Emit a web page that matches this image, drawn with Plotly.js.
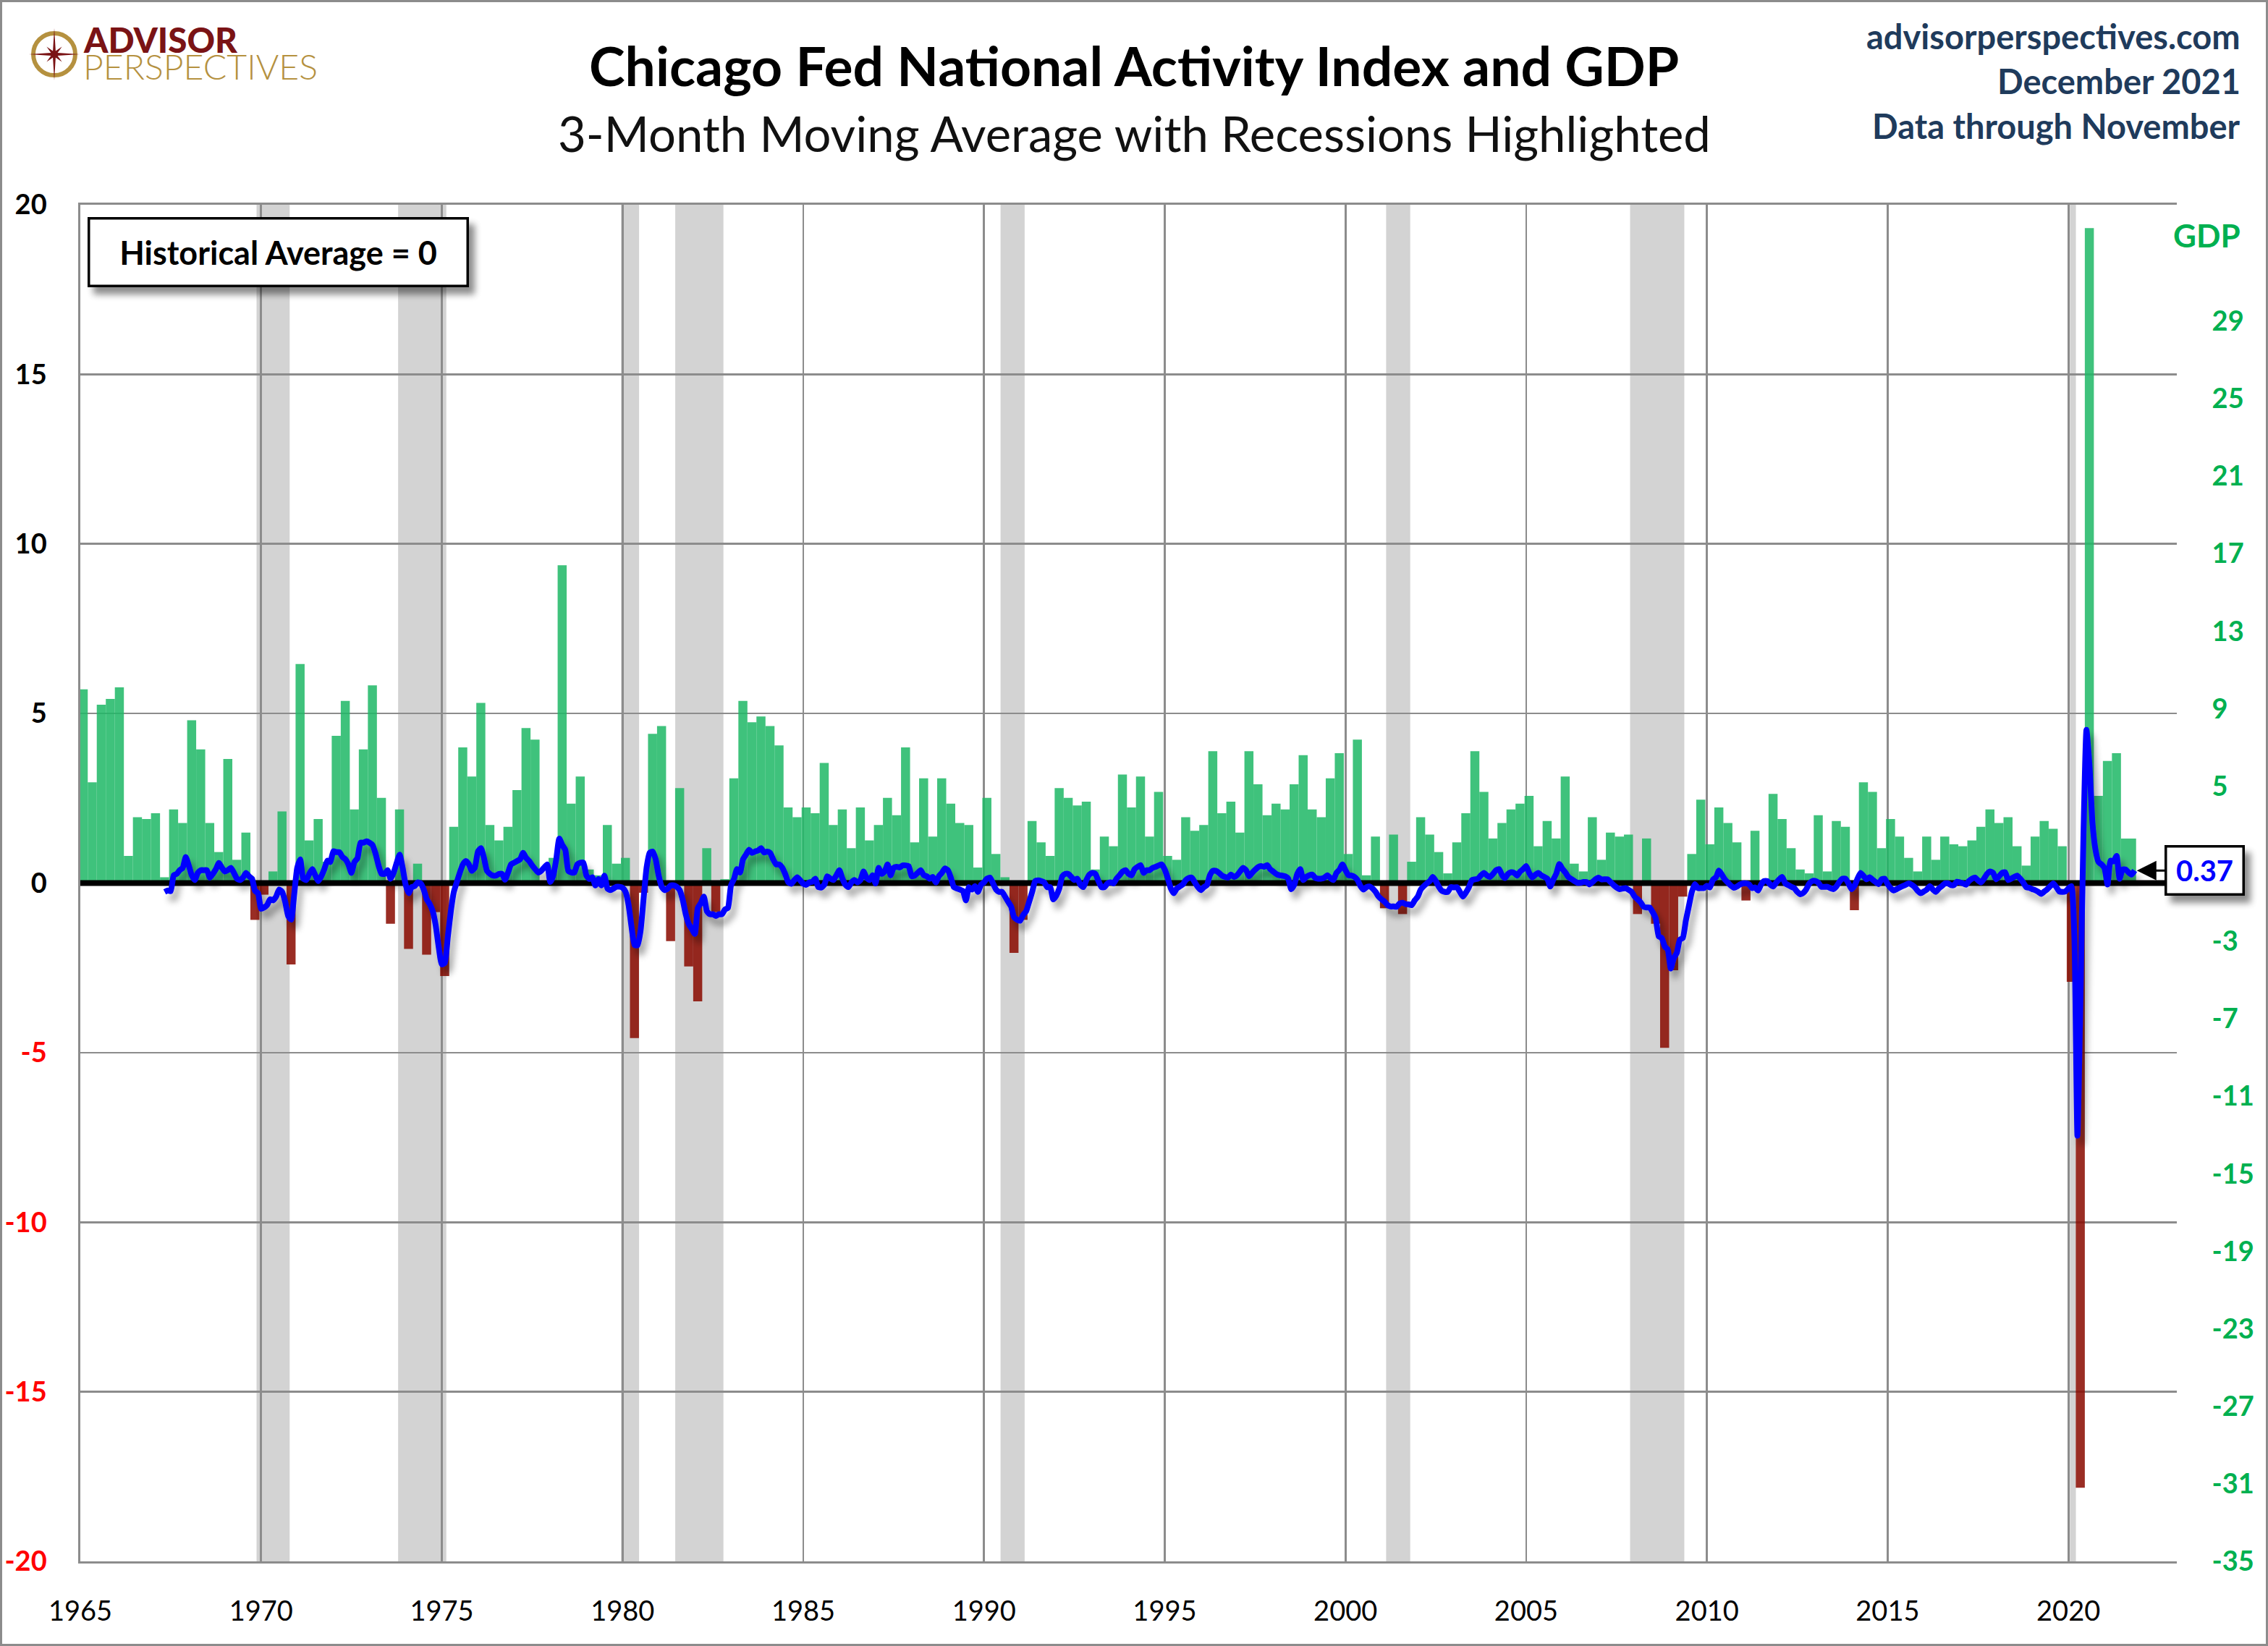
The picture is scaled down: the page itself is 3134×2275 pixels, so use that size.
<!DOCTYPE html>
<html><head><meta charset="utf-8">
<script src="https://cdn.plot.ly/plotly-3.0.1.min.js"></script>
<style>
html,body{margin:0;padding:0;background:#fff;}
#wrap{position:relative;width:3134px;height:2275px;overflow:hidden;background:#fff;}
#chart{position:absolute;left:0;top:0;width:3134px;height:2275px;}
#frame{position:absolute;left:0;top:0;width:3134px;height:2275px;box-sizing:border-box;border:3px solid #8c8c8c;pointer-events:none;}
#logo{position:absolute;left:0;top:0;pointer-events:none;}
</style></head>
<body>
<div id="wrap">
<div id="chart"></div>
<svg id="logo" width="470" height="130" xmlns="http://www.w3.org/2000/svg">
  <circle cx="75" cy="75" r="29" fill="none" stroke="#B5913F" stroke-width="6"/>
  <polygon id="star" fill="#7A1315"/>
  <text x="116" y="73" font-family="Lato" font-weight="900" font-size="47" fill="#7A1315" textLength="212" lengthAdjust="spacingAndGlyphs">ADVISOR</text>
  <text x="115" y="110" font-family="Lato" font-weight="300" font-size="47" fill="#B5913F" textLength="324" lengthAdjust="spacingAndGlyphs">PERSPECTIVES</text>
</svg>
<div id="frame"></div>
</div>
<script>
// ---------------- DATA ----------------
const gdpStartYear = 1965;           // first quarter = 1965 Q1
const gdp = [
 10.0, 5.2, 9.2, 9.5,   10.1, 1.4, 3.4, 3.3,   3.6, 0.3, 3.8, 3.1,   8.4, 6.9, 3.1, 1.6,   6.4, 1.2, 2.6, -1.9,
 -0.6, 0.6, 3.7, -4.2,  11.3, 2.2, 3.3, 1.1,   7.6, 9.4, 3.8, 6.9,   10.2, 4.4, -2.1, 3.8,  -3.4, 1.0, -3.7, -1.5,
 -4.8, 2.9, 7.0, 5.5,   9.3, 3.0, 2.2, 2.9,    4.8, 8.0, 7.4, 0.0,   1.3, 16.4, 4.1, 5.5,  0.7, 0.4, 3.0, 1.0,
 1.3, -8.0, -0.5, 7.7,  8.1, -3.0, 4.9, -4.3,  -6.1, 1.8, -1.5, 0.2, 5.4, 9.4, 8.3, 8.6,   8.1, 7.1, 3.9, 3.4,
 3.9, 3.6, 6.2, 3.0,    3.8, 1.8, 3.9, 2.2,    3.0, 4.4, 3.5, 7.0,   2.1, 5.4, 2.4, 5.4,   4.1, 3.1, 3.0, 0.8,
 4.4, 1.5, 0.3, -3.6,   -1.9, 3.2, 2.1, 1.4,   4.9, 4.4, 4.0, 4.2,   0.7, 2.4, 1.9, 5.6,   3.9, 5.5, 2.4, 4.7,
 1.4, 1.2, 3.4, 2.7,    3.0, 6.8, 3.6, 4.2,    2.6, 6.8, 5.1, 3.5,   4.1, 3.8, 5.1, 6.6,   3.8, 3.4, 5.4, 6.7,
 1.5, 7.4, 0.4, 2.4,    -1.3, 2.5, -1.6, 1.1,  3.4, 2.5, 1.6, 0.5,   2.1, 3.6, 6.8, 4.7,   2.3, 3.1, 3.8, 4.1,
 4.5, 1.9, 3.2, 2.3,    5.5, 1.0, 0.6, 3.4,    1.2, 2.6, 2.4, 2.5,   -1.6, 2.3, -2.1, -8.5, -4.5, -0.7, 1.5, 4.3,
 2.0, 3.9, 3.1, 2.1,    -0.9, 2.7, -0.1, 4.6,  3.3, 1.8, 0.7, 0.5,   3.5, 0.6, 3.2, 2.9,   -1.4, 5.2, 4.7, 1.8,
 3.3, 2.4, 1.3, 0.6,    2.4, 1.2, 2.4, 2.0,    1.9, 2.2, 2.9, 3.8,   3.1, 3.4, 1.9, 0.9,   2.4, 3.2, 2.8, 1.9,
 -5.1, -31.2, 33.8, 4.5, 6.3, 6.7, 2.3
];

const cfnaiStartYear = 1967, cfnaiStartMonth = 5;   // May 1967
const cfnai = [
 -0.26, -0.22, -0.24, 0.23, 0.27, 0.38, 0.45, 0.77,
 0.52, 0.23, 0.09, 0.30, 0.38, 0.38, 0.38, 0.16, 0.27, 0.41, 0.59, 0.45,
 0.34, 0.38, 0.45, 0.30, 0.13, 0.09, 0.16, 0.30, 0.20, 0.13, -0.23, -0.30,
 -0.76, -0.72, -0.65, -0.48, -0.51, -0.40, -0.19, -0.26, -0.55, -0.97, -1.08, -0.33,
 0.45, 0.70, 0.13, 0.09, 0.27, 0.41, 0.23, 0.06, 0.20, 0.41, 0.66, 0.62,
 0.94, 0.91, 0.91, 0.77, 0.70, 0.55, 0.30, 0.62, 0.73, 1.19, 1.19, 1.23,
 1.19, 1.12, 0.87, 0.52, 0.27, 0.27, 0.38, 0.13, 0.30, 0.59, 0.84, 0.45,
 -0.05, -0.30, -0.12, -0.09, 0.02, -0.01, -0.19, -0.48, -0.62, -0.83, -1.26, -1.90,
 -2.40, -2.35, -1.59, -0.83, -0.26, 0.03, 0.31, 0.55, 0.65, 0.55, 0.36, 0.46,
 0.93, 1.03, 0.74, 0.36, 0.27, 0.22, 0.22, 0.27, 0.27, 0.10, 0.31, 0.55,
 0.60, 0.65, 0.70, 0.89, 0.74, 0.65, 0.52, 0.41, 0.31, 0.36, 0.46, 0.55,
 0.03, 0.22, 0.70, 1.31, 1.12, 0.98, 0.36, 0.31, 0.31, 0.55, 0.60, 0.60,
 0.22, 0.12, 0.17, -0.07, 0.12, -0.07, 0.22, -0.16, -0.21, -0.16, -0.11, -0.11,
 -0.14, -0.26, -0.64, -1.30, -1.83, -1.83, -1.40, -0.45, 0.46, 0.89, 0.93, 0.70,
 0.22, -0.11, -0.21, -0.16, -0.07, -0.07, -0.11, -0.21, -0.50, -0.92, -1.21, -1.35,
 -1.50, -0.73, -0.59, -0.40, -0.83, -0.92, -0.92, -0.97, -0.92, -0.92, -0.78, -0.73,
 -0.07, 0.12, 0.41, 0.31, 0.70, 0.84, 0.98, 0.89, 0.93, 0.96, 1.03, 0.90,
 0.93, 0.89, 0.70, 0.55, 0.55, 0.46, 0.27, 0.03, -0.02, 0.08, 0.17, 0.08,
 -0.02, -0.05, 0.02, 0.04, 0.13, -0.12, -0.13, -0.05, 0.20, 0.13, 0.09, 0.23,
 0.38, 0.13, -0.05, -0.12, 0.02, 0.09, 0.02, 0.09, 0.34, 0.16, 0.09, 0.23,
 -0.01, 0.45, 0.27, 0.34, 0.55, 0.23, 0.45, 0.48, 0.46, 0.52, 0.52, 0.50,
 0.20, 0.22, 0.30, 0.38, 0.23, 0.20, 0.13, 0.18, 0.02, 0.20, 0.30, 0.43,
 0.38, 0.16, -0.12, -0.16, -0.19, -0.23, -0.51, -0.12, -0.19, -0.09, -0.26, -0.05,
 0.02, 0.13, 0.16, -0.01, -0.19, -0.26, -0.26, -0.40, -0.55, -0.69, -1.01, -1.08,
 -1.11, -0.94, -0.83, -0.55, -0.26, 0.06, 0.08, 0.06, 0.02, -0.12, -0.12, -0.48,
 -0.37, -0.16, 0.20, 0.27, 0.27, 0.18, 0.09, 0.13, -0.05, -0.12, 0.09, 0.25,
 0.30, 0.27, 0.06, -0.12, -0.12, -0.01, 0.02, -0.01, 0.13, 0.23, 0.34, 0.38,
 0.27, 0.23, 0.41, 0.48, 0.53, 0.30, 0.38, 0.38, 0.45, 0.48, 0.52, 0.55,
 0.40, 0.15, -0.15, -0.30, -0.16, -0.10, -0.04, 0.09, 0.15, 0.16, 0.02, -0.12,
 -0.21, -0.12, -0.06, 0.23, 0.36, 0.36, 0.30, 0.22, 0.18, 0.16, 0.25, 0.18,
 0.23, 0.34, 0.45, 0.38, 0.20, 0.30, 0.39, 0.47, 0.50, 0.48, 0.53, 0.41,
 0.34, 0.27, 0.23, 0.22, 0.20, 0.13, -0.18, -0.05, 0.27, 0.41, 0.09, 0.18,
 0.23, 0.25, 0.15, 0.13, 0.13, 0.16, 0.23, 0.15, 0.09, 0.30, 0.39, 0.55,
 0.38, 0.23, 0.22, 0.18, 0.09, -0.09, -0.19, -0.12, -0.10, -0.16, -0.26, -0.40,
 -0.48, -0.55, -0.65, -0.69, -0.69, -0.70, -0.60, -0.58, -0.62, -0.63, -0.65, -0.51,
 -0.40, -0.19, -0.09, -0.01, 0.06, 0.18, 0.06, -0.11, -0.23, -0.26, -0.26, -0.12,
 -0.13, -0.12, -0.26, -0.40, -0.28, -0.12, 0.09, 0.11, 0.13, 0.23, 0.30, 0.22,
 0.18, 0.27, 0.38, 0.41, 0.23, 0.15, 0.27, 0.32, 0.30, 0.22, 0.34, 0.41,
 0.50, 0.30, 0.17, 0.24, 0.30, 0.23, 0.18, 0.13, -0.10, 0.10, 0.28, 0.56,
 0.42, 0.31, 0.18, 0.12, 0.06, 0.01, 0.01, 0.03, 0.03, -0.04, 0.03, 0.11,
 0.16, 0.11, 0.11, 0.11, 0.03, -0.06, -0.13, -0.18, -0.16, -0.15, -0.20, -0.26,
 -0.40, -0.48, -0.57, -0.70, -0.72, -0.72, -0.86, -1.04, -1.57, -1.62, -1.87, -1.96,
 -2.52, -2.21, -2.06, -1.67, -1.62, -1.11, -0.68, -0.26, -0.03, -0.15, -0.15, -0.15,
 -0.08, -0.13, 0.10, 0.17, 0.37, 0.24, 0.10, 0.01, -0.08, -0.14, -0.10, -0.04,
 -0.01, -0.01, -0.04, -0.15, -0.13, -0.22, -0.04, 0.06, 0.06, -0.04, -0.10, 0.01,
 0.11, 0.18, -0.01, -0.06, -0.11, -0.15, -0.26, -0.33, -0.29, -0.18, -0.01, 0.06,
 0.06, 0.01, -0.11, -0.11, -0.11, -0.15, -0.18, -0.10, 0.04, 0.13, 0.13, -0.01,
 -0.18, -0.08, 0.13, 0.30, 0.21, 0.11, 0.17, 0.10, 0.03, -0.03, 0.11, 0.13,
 -0.03, -0.15, -0.22, -0.18, -0.13, -0.09, -0.05, -0.01, -0.05, -0.12, -0.23, -0.30,
 -0.25, -0.19, -0.09, -0.19, -0.26, -0.16, -0.09, -0.01, -0.01, -0.06, -0.06, 0.04,
 0.02, -0.01, -0.05, 0.06, 0.13, 0.16, 0.08, 0.02, 0.13, 0.27, 0.34, 0.30,
 0.11, 0.20, 0.30, 0.32, 0.09, 0.13, 0.18, 0.22, 0.13, 0.02, -0.12, -0.14,
 -0.18, -0.21, -0.26, -0.32, -0.25, -0.18, -0.09, -0.01, -0.12, -0.25, -0.26, -0.25,
 -0.16, -0.09, -1.60, -7.45, -3.40, 1.40, 4.52, 3.46, 1.77, 0.98, 0.62, 0.55,
 0.44, -0.04, 0.66, 0.64, 0.80, 0.13, 0.40, 0.40, 0.31, 0.25, 0.37
];

const recessionStart = ['1969-12','1973-11','1980-01','1981-07','1990-07','2001-03','2007-12','2020-02'];
const recessionEnd   = ['1970-11','1975-03','1980-07','1982-11','1991-03','2001-11','2009-06','2020-04'];

const xRange     = [1965, 2023];
const xTickYears = [1965,1970,1975,1980,1985,1990,1995,2000,2005,2010,2015,2020];
const leftRange  = [-20, 20];
const leftTicks  = [-20,-15,-10,-5,0,5,10,15,20];
const rightRange = [-35, 35];
const rightTicks = [-35,-31,-27,-23,-19,-15,-11,-7,-3,1,5,9,13,17,21,25,29];

// ---------------- BUILD ----------------
const ym = s => { const [y,m] = s.split('-').map(Number); return y + (m-1)/12; };

const lineX = cfnai.map((v,k) => cfnaiStartYear + (cfnaiStartMonth - 1 + k)/12);
const lastX = lineX[lineX.length-1], lastV = cfnai[cfnai.length-1];

const barX = [], barW = [], barC = [];
gdp.forEach((v,i) => {
  const start = gdpStartYear + Math.floor(i/4) + (i%4)*0.25;
  let left = start - 0.045, right = left + 0.25;
  if (i === gdp.length-1) right = lastX + 0.04;
  barX.push((left+right)/2); barW.push(right-left);
  barC.push(v >= 0 ? 'rgb(32,184,102)' : 'rgb(137,10,0)');
});

const GRID = '#8c8c8c';
const FONT = 'Lato, "Open Sans", sans-serif';

const traces = [
  // GDP bars on the primary (right-hand) axis so they sit underneath
  {type:'bar', x:barX, y:gdp, width:barW, yaxis:'y',
   marker:{color:barC, opacity:0.86, line:{width:0}}, hoverinfo:'skip'},
  // zero reference line of the CFNAI axis
  {type:'scatter', mode:'lines', x:xRange, y:[0,0], yaxis:'y2',
   line:{color:'#000', width:8}, hoverinfo:'skip'},
  // CFNAI 3-month moving average
  {type:'scatter', mode:'lines', x:lineX, y:cfnai, yaxis:'y2',
   line:{color:'#0000FF', width:8, shape:'spline', smoothing:0.5}, hoverinfo:'skip'}
];

const shapes = recessionStart.map((s,i) => ({
  type:'rect', xref:'x', yref:'paper', x0: ym(s) - 1/24, x1: ym(recessionEnd[i]) - 1/24,
  y0:0, y1:1, fillcolor:'#D3D3D3', line:{width:0}, layer:'below'
}));

const navy = '#1F3B5C';
const annotations = [
  {xref:'paper', yref:'paper', x:0.5026, y:1.1029, xanchor:'center', yanchor:'middle', showarrow:false,
   text:'<b>Chicago Fed National Activity Index and GDP</b>', font:{family:FONT, size:75, color:'#000'}},
  {xref:'paper', yref:'paper', x:0.5026, y:1.0528, xanchor:'center', yanchor:'middle', showarrow:false,
   text:'3-Month Moving Average with Recessions Highlighted', font:{family:FONT, size:67, color:'#111'}},
  {xref:'paper', yref:'paper', x:1.0311, y:1.1243, xanchor:'right', yanchor:'middle', showarrow:false,
   text:'<b>advisorperspectives.com</b>', font:{family:FONT, size:47, color:navy}},
  {xref:'paper', yref:'paper', x:1.0311, y:1.0912, xanchor:'right', yanchor:'middle', showarrow:false,
   text:'<b>December 2021</b>', font:{family:FONT, size:47, color:navy}},
  {xref:'paper', yref:'paper', x:1.0311, y:1.0581, xanchor:'right', yanchor:'middle', showarrow:false,
   text:'<b>Data through November</b>', font:{family:FONT, size:47, color:navy}},
  {xref:'paper', yref:'paper', x:1.0311, y:0.9776, xanchor:'right', yanchor:'middle', showarrow:false,
   text:'<b>GDP</b>', font:{family:FONT, size:44, color:'#00B050'}},
  {xref:'paper', yref:'paper', x:0.0035, y:0.9909, xanchor:'left', yanchor:'top', showarrow:false,
   text:'<b>Historical Average = 0</b>', font:{family:FONT, size:45, color:'#000'},
   bgcolor:'#fff', bordercolor:'#000', borderwidth:3.5, borderpad:0, width:520, height:90},
  {xref:'x', yref:'y2', x:lastX, y:lastV, ax:97, ay:0, showarrow:true, arrowhead:2, arrowsize:1.8,
   arrowwidth:3, arrowcolor:'#000', standoff:3,
   text:'<b>' + lastV.toFixed(2) + '</b>', font:{family:FONT, size:40, color:'#0000FF'},
   bgcolor:'#fff', bordercolor:'#000', borderwidth:3.5, borderpad:0, width:104, height:63}
];

const leftText = leftTicks.map(v => v < 0 ? '<span style="color:#FF0000">' + v + '</span>' : String(v));

const layout = {
  width:3134, height:2275,
  margin:{l:111, r:126, t:283, b:117, pad:0},
  paper_bgcolor:'#fff', plot_bgcolor:'#fff',
  showlegend:false, barmode:'overlay',
  font:{family:FONT},
  xaxis:{range:xRange, tickvals:xTickYears, ticktext:xTickYears.map(String),
         showgrid:true, gridcolor:GRID, gridwidth:2.7, zeroline:false,
         showline:true, mirror:true, linecolor:GRID, linewidth:2.7,
         ticks:'outside', ticklen:34, tickcolor:'rgba(0,0,0,0)',
         tickfont:{family:FONT, size:38, color:'#000'}},
  // GDP axis (right)
  yaxis:{range:rightRange, side:'right', tickvals:rightTicks, ticktext:rightTicks.map(String),
         showgrid:false, zeroline:false, showline:false,
         ticks:'outside', ticklen:40, tickcolor:'rgba(0,0,0,0)',
         tickfont:{family:FONT, size:38, color:'#00B050', weight:'bold'}},
  // CFNAI axis (left)
  yaxis2:{range:leftRange, overlaying:'y', side:'left', tickvals:leftTicks, ticktext:leftText,
          showgrid:true, gridcolor:GRID, gridwidth:2.7, zeroline:false,
          showline:true, linecolor:GRID, linewidth:2.7,
          ticks:'outside', ticklen:36, tickcolor:'rgba(0,0,0,0)',
          tickfont:{family:FONT, size:38, color:'#000', weight:'bold'}},
  shapes:shapes, annotations:annotations
};

// compass star for the logo
(function(){
  const cx=75, cy=75, pts=[];
  const radii = [36, 15, 35, 15, 36, 15, 35, 15];
  for (let k=0;k<16;k++){
    const ang = -Math.PI/2 + k*Math.PI/8;
    const r = (k%2===0) ? radii[k/2] : 5;
    pts.push((cx + r*Math.cos(ang)).toFixed(1) + ',' + (cy + r*Math.sin(ang)).toFixed(1));
  }
  document.getElementById('star').setAttribute('points', pts.join(' '));
})();

Plotly.newPlot('chart', traces, layout, {displayModeBar:false, staticPlot:true}).then(gd => {
  const NS = 'http://www.w3.org/2000/svg';
  const svg = gd.querySelector('.main-svg');
  const defs = document.createElementNS(NS, 'defs');
  defs.innerHTML =
    '<filter id="shd" x="-5%" y="-20%" width="110%" height="140%">' +
    '<feGaussianBlur in="SourceAlpha" stdDeviation="5"/>' +
    '<feOffset dx="6" dy="10" result="o"/>' +
    '<feComponentTransfer><feFuncA type="linear" slope="0.35"/></feComponentTransfer>' +
    '<feMerge><feMergeNode/><feMergeNode in="SourceGraphic"/></feMerge></filter>' +
    '<filter id="shdbox" x="-20%" y="-30%" width="150%" height="180%">' +
    '<feGaussianBlur in="SourceAlpha" stdDeviation="5"/>' +
    '<feOffset dx="8" dy="10" result="o"/>' +
    '<feComponentTransfer><feFuncA type="linear" slope="0.45"/></feComponentTransfer>' +
    '<feMerge><feMergeNode/><feMergeNode in="SourceGraphic"/></feMerge></filter>';
  svg.insertBefore(defs, svg.firstChild);
  const lines = gd.querySelectorAll('.scatterlayer .js-line');
  if (lines.length) lines[lines.length-1].setAttribute('filter','url(#shd)');
  const anns = gd.querySelectorAll('.annotation');
  [6,7].forEach(i => {
    const a = anns[i]; if (!a) return;
    const r = a.querySelector('rect.bg'); if (r) r.setAttribute('filter','url(#shdbox)');
  });
});
</script>
</body></html>
